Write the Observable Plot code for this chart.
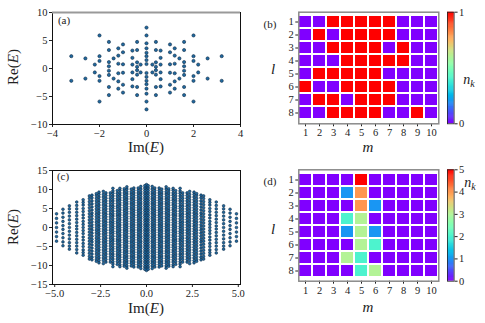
<!DOCTYPE html>
<html><head><meta charset="utf-8">
<script src="https://cdn.jsdelivr.net/npm/d3@7"></script>
<script src="https://cdn.jsdelivr.net/npm/@observablehq/plot@0.6"></script>
<style>
body{margin:0;background:#fff;}
#fig{position:relative;width:485px;height:323px;overflow:hidden;font-family:"Liberation Serif",serif;color:#222;}
#fig svg{position:absolute;overflow:visible;}
.lbl{position:absolute;white-space:nowrap;line-height:1;}
</style></head><body><div id="fig"></div>
<script>
// ---------- Panel (a): spectrum, [Im(E), Re(E)] ----------
const aPoints = [
[0.25,0.7],[-0.25,0.7],[-0.25,-0.7],[0.25,-0.7],
[0.4,4.75],[-0.4,4.75],[-0.4,-4.75],[0.4,-4.75],
[0.4,3.3],[-0.4,3.3],[-0.4,-3.3],[0.4,-3.3],
[0.4,1.1],[-0.4,1.1],[-0.4,-1.1],[0.4,-1.1],
[0.4,0.3],[-0.4,0.3],[-0.4,-0.3],[0.4,-0.3],
[0.6,3.2],[-0.6,3.2],[-0.6,-3.2],[0.6,-3.2],
[0.6,1.9],[-0.6,1.9],[-0.6,-1.9],[0.6,-1.9],
[0.6,0.7],[-0.6,0.7],[-0.6,-0.7],[0.6,-0.7],
[1,4.3],[-1,4.3],[-1,-4.3],[1,-4.3],
[1,2.9],[-1,2.9],[-1,-2.9],[1,-2.9],
[1,0.75],[-1,0.75],[-1,-0.75],[1,-0.75],
[1.2,3.6],[-1.2,3.6],[-1.2,-3.6],[1.2,-3.6],
[1.2,2.3],[-1.2,2.3],[-1.2,-2.3],[1.2,-2.3],
[1.2,0.85],[-1.2,0.85],[-1.2,-0.85],[1.2,-0.85],
[1.4,1.8],[-1.4,1.8],[-1.4,-1.8],[1.4,-1.8],
[1.6,4.75],[-1.6,4.75],[-1.6,-4.75],[1.6,-4.75],
[1.6,3.3],[-1.6,3.3],[-1.6,-3.3],[1.6,-3.3],
[1.6,1.15],[-1.6,1.15],[-1.6,-1.15],[1.6,-1.15],
[1.6,0.4],[-1.6,0.4],[-1.6,-0.4],[1.6,-0.4],
[2,5.9],[-2,5.9],[-2,-5.9],[2,-5.9],
[2,2.2],[-2,2.2],[-2,-2.2],[2,-2.2],
[2,1.35],[-2,1.35],[-2,-1.35],[2,-1.35],
[2.2,0.7],[-2.2,0.7],[-2.2,-0.7],[2.2,-0.7],
[2.6,1.8],[-2.6,1.8],[-2.6,-1.8],[2.6,-1.8],
[3.2,2.2],[-3.2,2.2],[-3.2,-2.2],[3.2,-2.2],
[0,7.3],[0,-7.3],[0,5.9],[0,-5.9],[0,4.5],[0,-4.5],[0,3.6],[0,-3.6],
[0,2.8],[0,-2.8],[0,2.2],[0,-2.2],[0,1.5],[0,-1.5],[0,0.8],[0,-0.8]
];
const aXTicks = [-4,-2,0,2,4];
const aYTicks = [-10,-5,0,5,10];

// ---------- Panel (c): spectrum columns (|Im E| and the Re E >= 0 values in each; spectrum symmetric) ----------
const cColumnIm = [0,0.09,0.31,0.45,0.69,0.83,1.07,1.21,1.45,1.59,1.83,1.97,2.21,2.35,2.59,2.73,2.97,3.11,3.45,3.8,4.2,4.55,4.9];
const cColumnRe = [
[0.3,0.95,1.6,2.3,2.9,3.6,4.2,4.9,5.5,6.2,6.8,7.5,8.1,8.8,9.4,10.1,10.7,11.3],
[0,0.65,1.3,1.95,2.6,3.25,3.9,4.55,5.2,5.85,6.5,7.15,7.8,8.45,9.1,9.75,10.4,11],
[0.3,0.95,1.6,2.3,2.9,3.6,4.2,4.9,5.5,6.2,6.8,7.5,8.1,8.8,9.4,10.1,10.8],
[0,0.65,1.3,1.95,2.6,3.25,3.9,4.55,5.2,5.85,6.5,7.15,7.8,8.45,9.1,9.75,10.4],
[0,0.65,1.3,1.95,2.6,3.25,3.9,4.55,5.2,5.85,6.5,7.15,7.8,8.45,9.1,9.75,10.4],
[0.3,0.95,1.6,2.3,2.9,3.6,4.2,4.9,5.5,6.2,6.8,7.5,8.1,8.8,9.4,10.1],
[0.3,0.95,1.6,2.3,2.9,3.6,4.2,4.9,5.5,6.2,6.8,7.5,8.1,8.8,9.4,10.1,10.7],
[0,0.65,1.3,1.95,2.6,3.25,3.9,4.55,5.2,5.85,6.5,7.15,7.8,8.45,9.1,9.75,10.2],
[0,0.65,1.3,2,2.6,3.3,3.9,4.6,5.2,5.9,6.5,7.2,7.8,8.5,9.1,9.8,10.3],
[0.3,1,1.6,2.3,3,3.6,4.3,5,5.6,6.3,7,7.6,8.3,9,9.7],
[0.3,1,1.6,2.3,3,3.6,4.3,5,5.6,6.3,7,7.6,8.3,9,9.6,10.3],
[0,0.7,1.4,2.1,2.8,3.5,4.2,4.9,5.6,6.3,7,7.7,8.4,9.1],
[0,0.7,1.4,2.1,2.8,3.5,4.2,4.9,5.6,6.3,7,7.7,8.4,9.1],
[0.35,1,1.7,2.4,3.1,3.8,4.5,5.2,5.9,6.6,7.3,8,8.7,9.5],
[0.35,1,1.7,2.4,3.1,3.8,4.5,5.2,5.9,6.6,7.3,8,8.7,9.3],
[0,0.7,1.4,2.1,2.8,3.5,4.2,4.9,5.6,6.3,7,7.7,8.4,8.9],
[0,0.7,1.5,2.3,3.1,3.8,4.6,5.4,6.2,7,7.8,8.5],
[0.4,1.2,2,2.8,3.6,4.4,5.2,6,6.8,7.6,8.3],
[0,0.8,1.6,2.5,3.3,4.2,5,5.9,6.6,7.3],
[0.4,1.3,2.2,3.1,4,4.9,5.8,6.7],
[0,1,2,3,4,4.9,5.7],
[0.5,1.6,2.7,3.8,4.8],
[0,1.2,2.4,3.6]
];
const cXTicks = [-5,-2.5,0,2.5,5];
const cYTicks = [-15,-10,-5,0,5,10,15];

// ---------- Panel (b): occupation n_k on (l, m) ----------
const lLabels = [1,2,3,4,5,6,7,8];
const mLabels = [1,2,3,4,5,6,7,8,9,10];
const bOccupation = [
[0,0,1,1,1,1,1,0,0,0],
[0,1,0,1,1,1,1,0,0,0],
[0,0,1,1,1,1,0,1,0,0],
[0,0,0,1,1,1,1,1,0,0],
[0,1,1,1,1,1,0,0,0,0],
[1,0,0,1,1,1,1,0,0,0],
[0,1,1,0,1,1,1,0,0,0],
[0,0,1,1,1,1,0,0,1,0]
];
const bColorTicks = [0,1];

// ---------- Panel (d): occupation n_k on (l, m) ----------
const dOccupation = [
[0,0,0,0,5,0,0,0,0,0],
[0,0,0,1,4,0,0,0,0,0],
[0,0,0,0,4,1,0,0,0,0],
[0,0,0,2,3,0,0,0,0,0],
[0,0,0,1,3,1,0,0,0,0],
[0,0,0,0,3,2,0,0,0,0],
[0,0,0,3,2,0,0,0,0,0],
[0,0,0,0,2,3,0,0,0,0]
];
const dColorTicks = [0,1,2,3,4,5];

// ---------- helpers ----------
const fig = document.getElementById("fig");
const SERIF = "'Liberation Serif', 'DejaVu Serif', serif";
const FONT = {fontFamily: SERIF, fontSize:"10.5px", color:"#222", background:"transparent", overflow:"visible"};
const DOT_FILL = "#2069a0", DOT_STROKE = "#102c44";

function mplRainbow(t){
  t = Math.max(0, Math.min(1, t));
  const r = Math.min(1, Math.abs(2*t - 0.5));
  const g = Math.sin(Math.PI*t);
  const b = Math.cos(Math.PI*t/2);
  return `rgb(${Math.round(r*255)},${Math.round(g*255)},${Math.round(b*255)})`;
}
function place(el, left, top){
  el.style.left = left+"px"; el.style.top = top+"px";
  el.setAttribute("font-family", SERIF);
  el.querySelectorAll("text, g").forEach(t => { t.setAttribute("font-family", SERIF); t.style.fontFamily = SERIF; });
  fig.appendChild(el);
}
function label(html, cx, cy, size, rotate){
  const d = document.createElement("div");
  d.className = "lbl";
  d.innerHTML = html;
  d.style.fontSize = size + "px";
  d.style.left = cx + "px"; d.style.top = cy + "px";
  d.style.transform = "translate(-50%,-50%)" + (rotate ? ` rotate(${rotate}deg)` : "");
  fig.appendChild(d);
}
function flatten(mat){
  const out = [];
  mat.forEach((row, i) => row.forEach((v, j) => out.push({l: lLabels[i], m: mLabels[j], n: v})));
  return out;
}

// ---------- (a) ----------
const aData = aPoints.map(([im, re]) => ({im, re}));
place(Plot.plot({
  width: 245, height: 160, marginLeft: 52, marginRight: 5, marginTop: 12, marginBottom: 36,
  style: FONT,
  x: {domain: [-4, 4], ticks: aXTicks, tickSize: 3, tickPadding: 2, label: null},
  y: {domain: [-10, 10], ticks: aYTicks, tickSize: 3, tickPadding: 2, label: null},
  marks: [
    Plot.frame({stroke: "#111"}),
    Plot.ruleY([10], {stroke: "#999", strokeWidth: 2}),
    Plot.dot(aData, {x: "im", y: "re", r: 1.6, fill: DOT_FILL, stroke: DOT_STROKE, strokeWidth: 0.6})
  ]
}), 0, 0);

// ---------- (c) ----------
const cData = [];
cColumnIm.forEach((x, i) => {
  cColumnRe[i].forEach(y => {
    (x === 0 ? [1] : [1, -1]).forEach(sx => (y === 0 ? [1] : [1, -1]).forEach(sy => cData.push({im: sx*x, re: sy*y})));
  });
});
place(Plot.plot({
  width: 245, height: 163, marginLeft: 52, marginRight: 5, marginTop: 10, marginBottom: 39,
  style: FONT,
  x: {domain: [-5.12, 5.12], ticks: cXTicks, tickFormat: d3.format(".1f"), tickSize: 3, tickPadding: 2, label: null},
  y: {domain: [-15, 15], ticks: cYTicks, tickSize: 3, tickPadding: 2, label: null},
  marks: [
    Plot.frame({stroke: "#111"}),
    Plot.dot(cData, {x: "im", y: "re", r: 1.35, fill: DOT_FILL, stroke: DOT_STROKE, strokeWidth: 0.6})
  ]
}), 0, 160);

// ---------- heatmaps ----------
function heatmap(mat, maxV, h, mt, mb){
  return Plot.plot({
    width: 245, height: h, marginLeft: 58.3, marginRight: 46.7, marginTop: mt, marginBottom: mb,
    style: FONT,
    x: {type: "band", domain: mLabels, padding: 0, tickSize: 3, tickPadding: 2, label: null},
    y: {type: "band", domain: lLabels, padding: 0, tickSize: 3, tickPadding: 2, label: null},
    color: {type: "linear", domain: [0, maxV], interpolate: mplRainbow},
    marks: [
      Plot.cell(flatten(mat), {x: "m", y: "l", fill: "n", inset: 1}),
      Plot.frame({stroke: "#8a8a8a", strokeWidth: 1.5})
    ]
  });
}
function colorbar(maxV, ticks, height, mt, mb){
  const n = 120, step = maxV / n;
  const steps = d3.range(n).map(i => i*step);
  return Plot.plot({
    width: 40, height, marginLeft: 0, marginRight: 33.4, marginTop: mt, marginBottom: mb,
    style: FONT,
    x: {axis: null, domain: [0, 1]},
    y: {domain: [0, maxV], ticks, tickFormat: d3.format("d"), axis: "right", tickSize: 3, tickPadding: 2, label: null},
    color: {type: "linear", domain: [0, maxV], interpolate: mplRainbow},
    marks: [
      Plot.rect(steps, {x1: () => 0, x2: () => 1, y1: d => d, y2: d => Math.min(maxV, d + step*1.6), fill: d => d + step/2}),
      Plot.frame({stroke: "#222", strokeWidth: 0.8})
    ]
  });
}
place(heatmap(bOccupation, 1, 160, 11.7, 36.7), 240, 0);
place(colorbar(1, bColorTicks, 160, 11.7, 36.7), 446.7, 0);
place(heatmap(dOccupation, 5, 163, 9.3, 42.3), 240, 160);
place(colorbar(5, dColorTicks, 163, 9.3, 42.3), 446.7, 160);

// ---------- text labels ----------
label("Re(<i>E</i>)", 13, 67, 15, -90);
label("Im(<i>E</i>)", 146, 147, 15);
label("(a)", 64, 20, 11);
label("Re(<i>E</i>)", 13, 227, 15, -90);
label("Im(<i>E</i>)", 146, 308, 15);
label("(c)", 63, 176, 11);
label("(b)", 270, 24, 11);
label("<i>l</i>", 273, 69, 15);
label("<i>m</i>", 368, 147, 15);
label("<i>n</i><sub style='font-size:10px;vertical-align:-3px'><i>k</i></sub>", 469, 81, 14);
label("(d)", 270, 181, 11);
label("<i>l</i>", 273, 229, 15);
label("<i>m</i>", 368, 307, 15);
label("<i>n</i><sub style='font-size:10px;vertical-align:-3px'><i>k</i></sub>", 470, 184, 14);
</script></body></html>
